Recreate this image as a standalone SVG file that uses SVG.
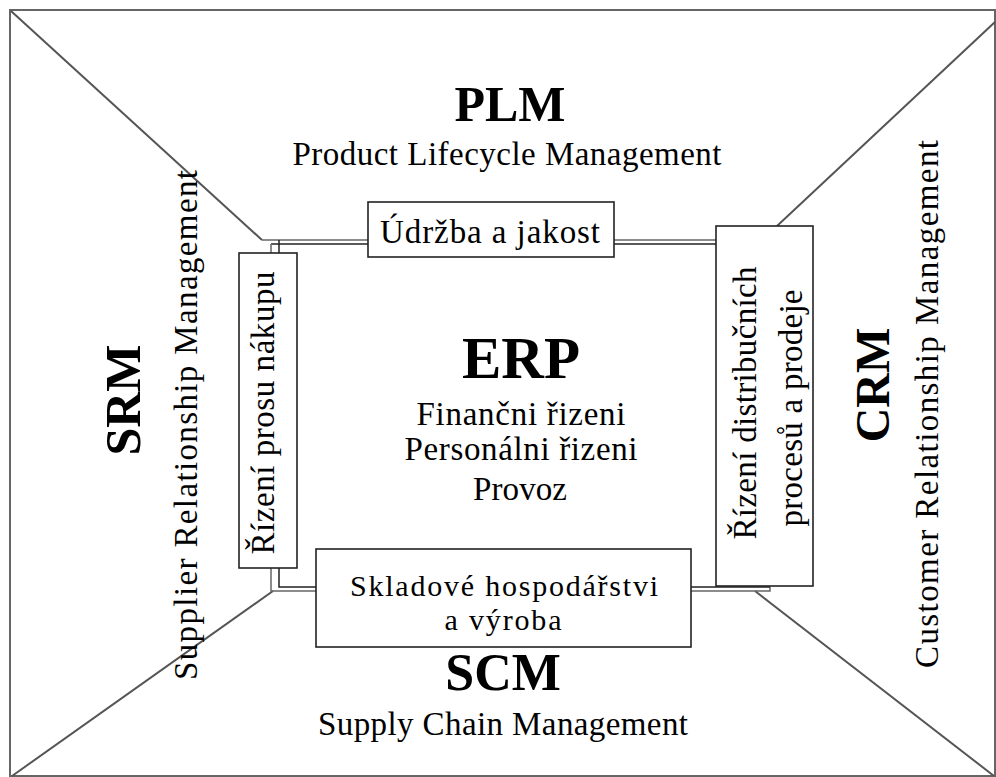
<svg xmlns="http://www.w3.org/2000/svg" width="996" height="777" viewBox="0 0 996 777">
<style>
.frame{fill:none;stroke:#666;stroke-width:2}
.diag{stroke:#555;stroke-width:2;fill:none}
.dl1{stroke:#666;stroke-width:1.5;fill:none}
.dl2{stroke:#222;stroke-width:1.5;fill:none}
.box{fill:#fff;stroke:#222;stroke-width:1.6}
.t{font-family:"Liberation Serif","Times New Roman",serif;fill:#000;text-anchor:middle}
.r{font-size:33px}
.s{font-size:30px}
.b{font-weight:bold}
</style>
<rect width="996" height="777" fill="#fff"/>
<g id="frame">
<rect class="frame" x="10" y="10" width="985" height="766"/>
</g>
<g id="connectors">
<line class="diag" x1="11" y1="11" x2="262" y2="240"/>
<line class="diag" x1="995" y1="22" x2="777" y2="226"/>
<line class="diag" x1="12" y1="776" x2="273" y2="591"/>
<line class="diag" x1="755" y1="591" x2="994" y2="776"/>
<path class="dl1" d="M262,240 H716"/>
<path class="dl2" d="M271,244 H716"/>
<path class="dl1" d="M271,244 V591 H770 V587"/>
<path class="dl2" d="M279,240 V587 H770"/>
</g>
<g id="plm">
<text class="t b" x="510" y="121" font-size="50">PLM</text>
<text class="t r" x="507" y="165" textLength="429" lengthAdjust="spacing">Product Lifecycle Management</text>
</g>
<g id="scm">
<text class="t b" x="503" y="690" font-size="52">SCM</text>
<text class="t r" x="503" y="735" textLength="370" lengthAdjust="spacing">Supply Chain Management</text>
</g>
<g id="srm">
<text class="t b" transform="translate(140,400) rotate(-90)" font-size="50">SRM</text>
<text class="t r" transform="translate(197,425) rotate(-90)" textLength="510" lengthAdjust="spacing">Supplier Relationship Management</text>
</g>
<g id="crm">
<text class="t b" transform="translate(889,385) rotate(-90)" font-size="48">CRM</text>
<text class="t r" transform="translate(938,404) rotate(-90)" textLength="528" lengthAdjust="spacing">Customer Relationship Management</text>
</g>
<g id="erp">
<text class="t b" x="521" y="378" font-size="59">ERP</text>
<text class="t r" x="521" y="425" textLength="209" lengthAdjust="spacing">Finančni řizeni</text>
<text class="t r" x="521" y="460" textLength="233" lengthAdjust="spacing">Personálni řizeni</text>
<text class="t r" x="520" y="500" textLength="94" lengthAdjust="spacing">Provoz</text>
</g>
<g id="udrzba">
<rect class="box" x="368" y="202" width="246" height="55"/>
<text class="t r" x="490" y="243" textLength="220" lengthAdjust="spacing">Údržba a jakost</text>
</g>
<g id="nakup">
<rect class="box" x="239" y="253" width="58" height="315"/>
<text class="t r" transform="translate(274,413) rotate(-90)" textLength="283" lengthAdjust="spacing">Řízení prosu nákupu</text>
</g>
<g id="prodej">
<rect class="box" x="716" y="226" width="97" height="360"/>
<text class="t r" transform="translate(756,403) rotate(-90)" textLength="273" lengthAdjust="spacing">Řízení distribučních</text>
<text class="t r" transform="translate(802,408) rotate(-90)" textLength="237" lengthAdjust="spacing">procesů a prodeje</text>
</g>
<g id="sklad">
<rect class="box" x="316" y="549" width="375" height="98"/>
<text class="t s" x="504" y="596" textLength="308" lengthAdjust="spacing">Skladové hospodářstvi</text>
<text class="t s" x="503" y="630" textLength="117" lengthAdjust="spacing">a výroba</text>
</g>
</svg>
